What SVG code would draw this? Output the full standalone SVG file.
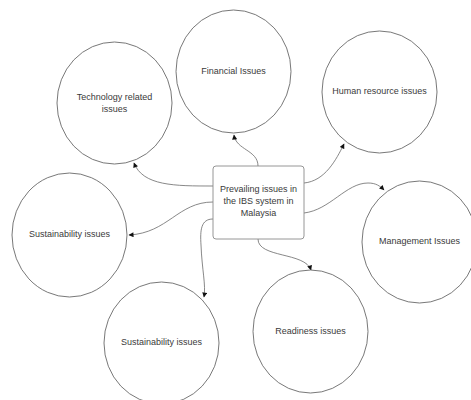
<svg xmlns="http://www.w3.org/2000/svg" width="471" height="400" viewBox="0 0 471 400">
  <style>
    .issue { fill: #ffffff; stroke: #555555; stroke-width: 0.8; }
    .hub { fill: #ffffff; stroke: #8a8a8a; stroke-width: 0.9; }
    .label { font-family: "Liberation Sans", Arial, sans-serif; font-size: 9px; fill: #3a3a3a; text-anchor: middle; }
    .link { fill: none; stroke: #6a6a6a; stroke-width: 0.8; marker-end: url(#tip); }
  </style>
  <defs>
    <marker id="tip" viewBox="0 0 10 10" refX="9" refY="5" markerWidth="6" markerHeight="5" markerUnits="userSpaceOnUse" orient="auto">
      <path d="M0,0 L10,5 L0,10 Z" fill="#111111"/>
    </marker>
  </defs>
  <rect width="471" height="400" fill="#ffffff"/>

  <g id="connectors">
    <path class="link" d="M213,186 C175,186 143,186 134,163"/>
    <path class="link" d="M258,166 C258,150 236,150 234,135"/>
    <path class="link" d="M304,183 C325,181 336,160 344,144"/>
    <path class="link" d="M304,213 C330,210 346,183 368,183 C376,183 380,186 384,190"/>
    <path class="link" d="M213,202 C178,202 168,233 129,235"/>
    <path class="link" d="M213,219 C201,219 200,230 201,245 C202,270 206,285 204,297"/>
    <path class="link" d="M258,239 C258,258 305,252 311,270"/>
  </g>

  <g id="technology">
    <ellipse class="issue" cx="114.5" cy="103" rx="57.5" ry="61"/>
    <text class="label" x="114.5" y="100">Technology related</text>
    <text class="label" x="114.5" y="112">issues</text>
  </g>
  <g id="financial">
    <ellipse class="issue" cx="233.5" cy="71.5" rx="57.5" ry="61.5"/>
    <text class="label" x="233.5" y="74">Financial Issues</text>
  </g>
  <g id="human-resource">
    <ellipse class="issue" cx="379.5" cy="92" rx="57.5" ry="61"/>
    <text class="label" x="379.5" y="94">Human resource issues</text>
  </g>
  <g id="sustainability-left">
    <ellipse class="issue" cx="69.5" cy="235" rx="57.5" ry="62"/>
    <text class="label" x="69.5" y="237">Sustainability issues</text>
  </g>
  <g id="sustainability-bottom">
    <ellipse class="issue" cx="161.5" cy="343" rx="57.5" ry="61"/>
    <text class="label" x="161.5" y="345">Sustainability issues</text>
  </g>
  <g id="management">
    <ellipse class="issue" cx="419.5" cy="242" rx="57.5" ry="61"/>
    <text class="label" x="419.5" y="244">Management Issues</text>
  </g>
  <g id="readiness">
    <ellipse class="issue" cx="310.5" cy="331.5" rx="57.5" ry="61.5"/>
    <text class="label" x="310.5" y="334">Readiness issues</text>
  </g>
  <g id="hub">
    <rect class="hub" x="213" y="166" width="91" height="73" rx="3"/>
    <text class="label" x="258.5" y="192">Prevailing issues in</text>
    <text class="label" x="258.5" y="204">the IBS system in</text>
    <text class="label" x="258.5" y="216">Malaysia</text>
  </g>
</svg>
